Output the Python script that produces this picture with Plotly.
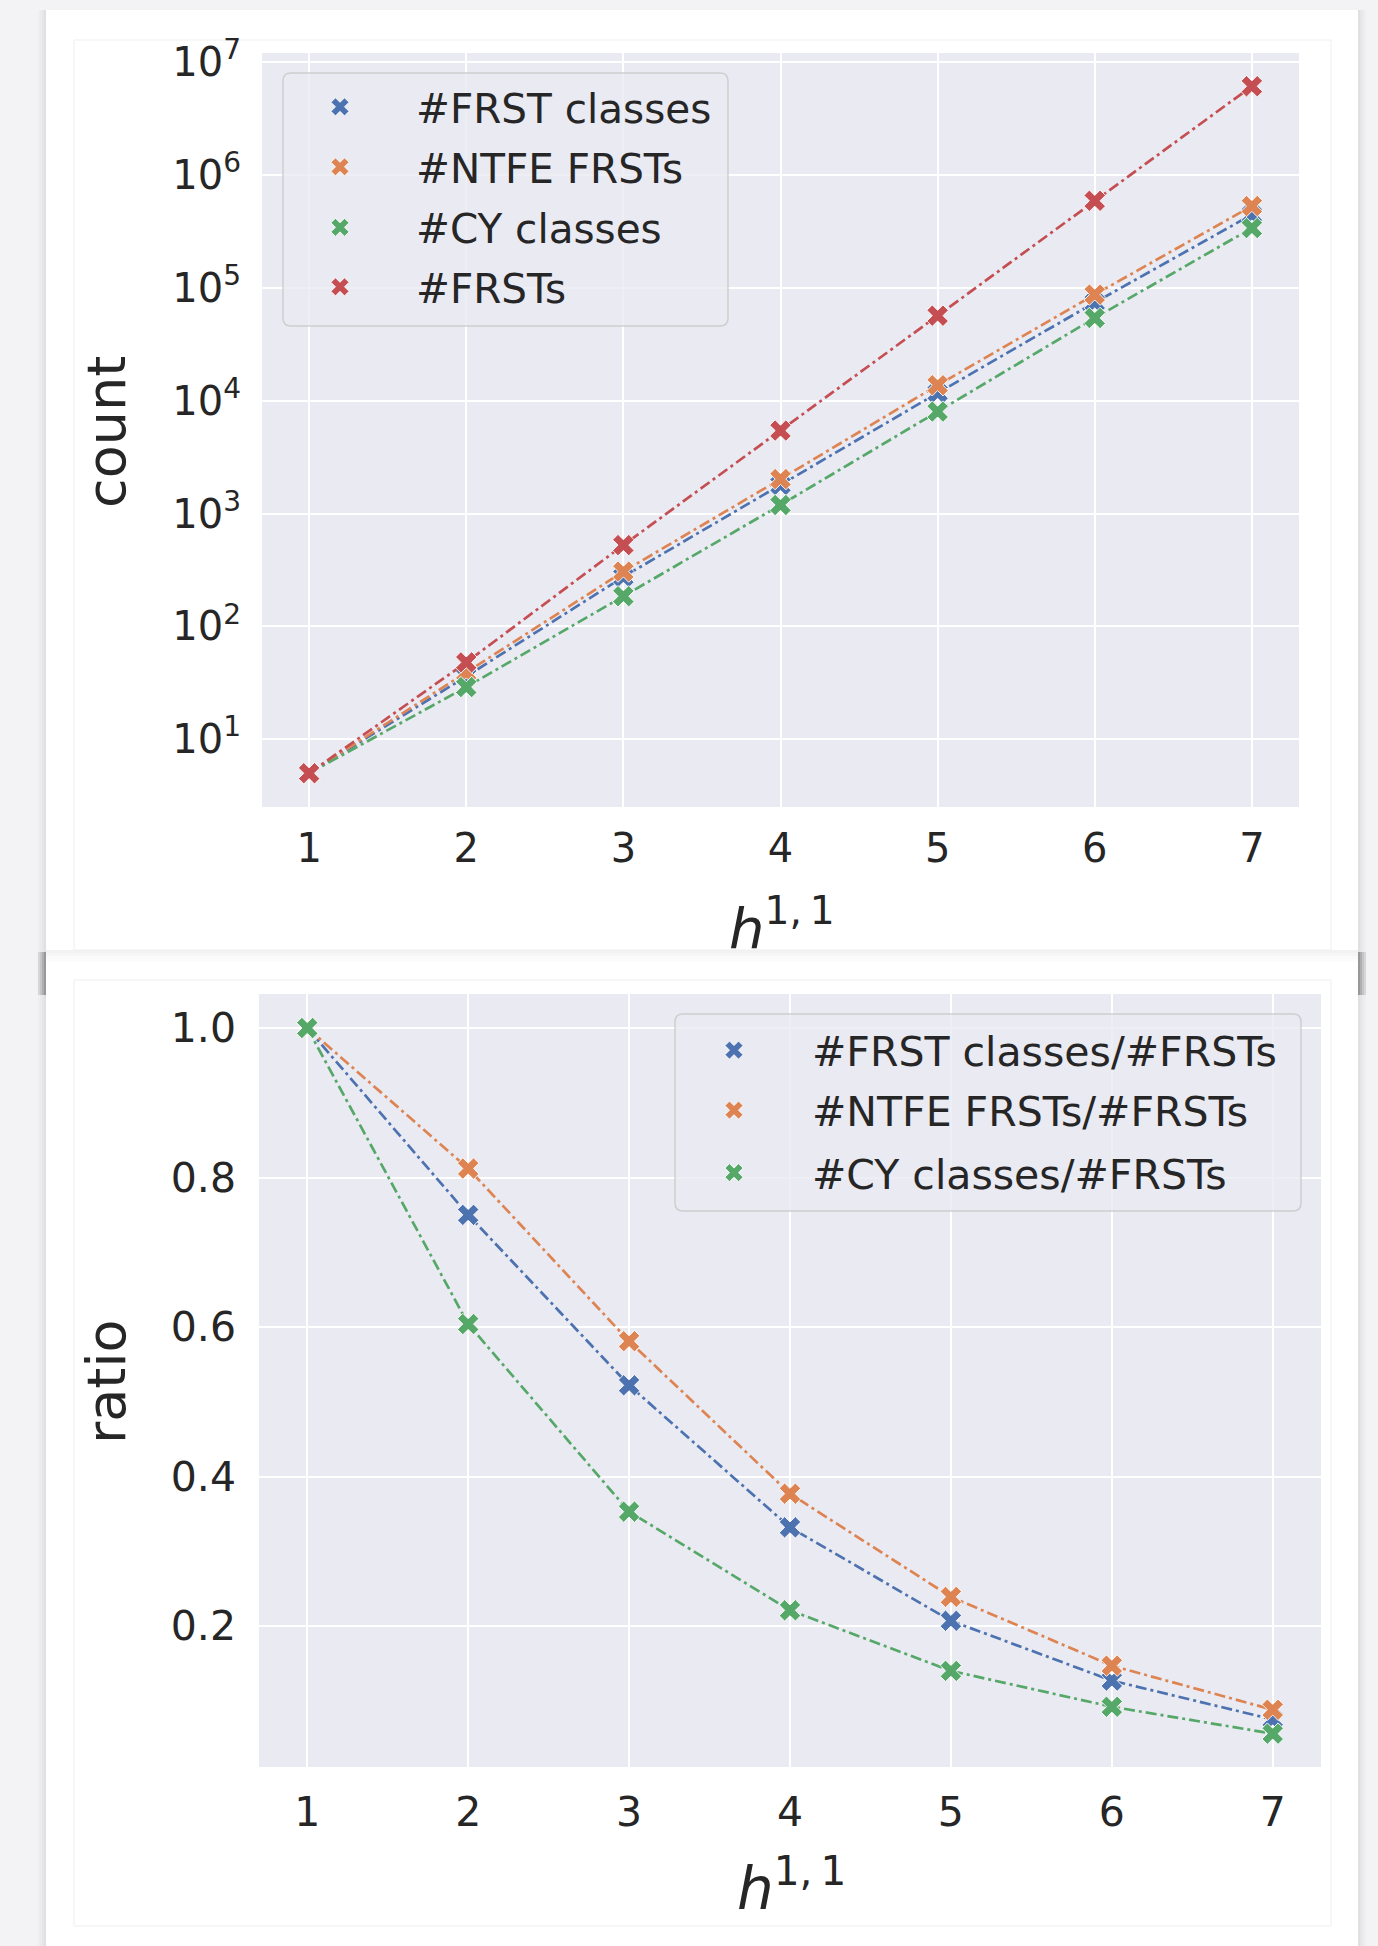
import plotly.graph_objects as go

W, H = 1378, 1946

# ---- data -------------------------------------------------------------
h11 = [1, 2, 3, 4, 5, 6, 7]

frst_classes = [5, 36, 275, 1790, 11700, 74000, 445000]
ntfe_frsts = [5, 39, 306, 2020, 13700, 87000, 530000]
cy_classes = [5, 29, 185, 1190, 8000, 54000, 338000]
frsts = [5, 48, 525, 5430, 56600, 590000, 6100000]

ratio_frst_classes = [1.0, 0.750, 0.522, 0.332, 0.207, 0.127, 0.075]
ratio_ntfe_frsts = [1.0, 0.812, 0.581, 0.377, 0.239, 0.147, 0.088]
ratio_cy_classes = [1.0, 0.604, 0.353, 0.221, 0.140, 0.092, 0.056]

count_labels = ["#FRST classes", "#NTFE FRSTs", "#CY classes", "#FRSTs"]
ratio_labels = ["#FRST classes/#FRSTs", "#NTFE FRSTs/#FRSTs", "#CY classes/#FRSTs"]

log_exponents = [1, 2, 3, 4, 5, 6, 7]
ratio_ticks = [0.2, 0.4, 0.6, 0.8, 1.0]

# ---- style ------------------------------------------------------------
COLORS = ["#4c72b0", "#dd8452", "#55a868", "#c44e52"]
TEXT = "#262626"
FONT = "DejaVu Sans"
PLOT_BG = "#eaeaf2"
DASH = "11px,4px,3px,4px"
LINE_W = 2.7
MARKER = 19


def px(x):
    return x / W


def py(y):
    return 1 - y / H


def rect(x0, y0, x1, y1, fill, layer="below", line=None):
    return dict(type="rect", xref="paper", yref="paper",
                x0=px(x0), x1=px(x1), y0=py(y1), y1=py(y0),
                fillcolor=fill, layer=layer,
                line=line or dict(width=0))


def rounded_box(x0, y0, x1, y1, r, fill, edge):
    pts = [("M", x0 + r, y0), ("L", x1 - r, y0), ("Q", x1, y0, x1, y0 + r),
           ("L", x1, y1 - r), ("Q", x1, y1, x1 - r, y1), ("L", x0 + r, y1),
           ("Q", x0, y1, x0, y1 - r), ("L", x0, y0 + r), ("Q", x0, y0, x0 + r, y0)]
    parts = []
    for p in pts:
        cmd, coords = p[0], p[1:]
        xy = " ".join(f"{px(coords[i]):.5f},{py(coords[i + 1]):.5f}"
                      for i in range(0, len(coords), 2))
        parts.append(f"{cmd}{xy}")
    path = " ".join(parts) + " Z"
    return dict(type="path", xref="paper", yref="paper", path=path,
                fillcolor=fill, line=dict(color=edge, width=1.5), layer="above")


# panel geometry (pixels)
TOP = dict(x0=262, x1=1299, y0=53, y1=807)
BOT = dict(x0=259, x1=1321, y0=994, y1=1767)

fig = go.Figure()

count_series = [frst_classes, ntfe_frsts, cy_classes, frsts]
ratio_series = [ratio_frst_classes, ratio_ntfe_frsts, ratio_cy_classes]

legend_ids_top = ["legend", "legend2", "legend3", "legend4"]
legend_ids_bot = ["legend5", "legend6", "legend7"]

marker_style = lambda c: dict(symbol="x", size=MARKER, color=c,
                              line=dict(color="white", width=0.9))

for i, (vals, name) in enumerate(zip(count_series, count_labels)):
    fig.add_trace(go.Scatter(x=h11, y=vals, mode="lines", showlegend=False,
                             line=dict(color=COLORS[i], width=LINE_W, dash=DASH),
                             xaxis="x", yaxis="y", hoverinfo="skip"))
    fig.add_trace(go.Scatter(x=h11, y=vals, mode="markers", name=name,
                             legend=legend_ids_top[i],
                             marker=marker_style(COLORS[i]),
                             xaxis="x", yaxis="y"))

for i, (vals, name) in enumerate(zip(ratio_series, ratio_labels)):
    fig.add_trace(go.Scatter(x=h11, y=vals, mode="lines", showlegend=False,
                             line=dict(color=COLORS[i], width=LINE_W, dash=DASH),
                             xaxis="x2", yaxis="y2", hoverinfo="skip"))
    fig.add_trace(go.Scatter(x=h11, y=vals, mode="markers", name=name,
                             legend=legend_ids_bot[i],
                             marker=marker_style(COLORS[i]),
                             xaxis="x2", yaxis="y2"))

# ---- background card, frames and plot areas --------------------------------
shapes = []
for k, a in enumerate([0.015, 0.03, 0.05, 0.08]):
    shapes.append(rect(38 + 2 * k, 10, 40 + 2 * k, H + 5, f"rgba(0,0,0,{a})"))
    shapes.append(rect(1364 - 2 * k, 10, 1366 - 2 * k, H + 5, f"rgba(0,0,0,{a})"))
shapes.append(rect(46, 10, 1358, H + 5, "white"))
for k, a in enumerate([0.10, 0.16, 0.24, 0.32]):
    shapes.append(rect(38 + 2 * k, 952, 40 + 2 * k, 995, f"rgba(0,0,0,{a})"))
    shapes.append(rect(1364 - 2 * k, 952, 1366 - 2 * k, 995, f"rgba(0,0,0,{a})"))
for k, a in enumerate([0.05, 0.035, 0.02, 0.01]):
    shapes.append(rect(46, 950 + 3 * k, 1358, 953 + 3 * k, f"rgba(0,0,0,{a})"))
frame_line = dict(color="#efeff1", width=1)
shapes.append(rect(74, 40, 1331, 950, "white", line=frame_line))
shapes.append(rect(74, 980, 1331, 1926, "white", line=frame_line))
shapes.append(rect(TOP["x0"], TOP["y0"], TOP["x1"], TOP["y1"], PLOT_BG))
shapes.append(rect(BOT["x0"], BOT["y0"], BOT["x1"], BOT["y1"], PLOT_BG))
shapes.append(rounded_box(283, 73, 728, 326, 8, "rgba(234,234,242,0.8)",
                          "rgba(204,204,204,0.9)"))
shapes.append(rounded_box(675, 1014, 1301, 1211, 8, "rgba(234,234,242,0.8)",
                          "rgba(204,204,204,0.9)"))

# ---- legends (one row each) ------------------------------------------------
legends = {}
top_rows = [107, 167, 227.5, 287]
for lid, yc in zip(legend_ids_top, top_rows):
    legends[lid] = dict(x=px(264), y=py(yc), xanchor="left", yanchor="middle",
                        bgcolor="rgba(0,0,0,0)", borderwidth=0, itemwidth=142,
                        font=dict(family=FONT, size=40.5, color=TEXT))
bot_rows = [1050.5, 1110.5, 1173]
for lid, yc in zip(legend_ids_bot, bot_rows):
    legends[lid] = dict(x=px(656), y=py(yc), xanchor="left", yanchor="middle",
                        bgcolor="rgba(0,0,0,0)", borderwidth=0, itemwidth=146,
                        font=dict(family=FONT, size=41, color=TEXT))

axis_common = dict(showline=False, zeroline=False, ticks="", gridcolor="white",
                   gridwidth=1.7, color=TEXT)

fig.update_layout(
    width=W, height=H,
    margin=dict(l=0, r=0, t=0, b=0, autoexpand=False),
    paper_bgcolor="#f3f3f6",
    plot_bgcolor="rgba(0,0,0,0)",
    font=dict(family=FONT, color=TEXT),
    shapes=shapes,
    xaxis=dict(domain=[px(TOP["x0"]), px(TOP["x1"])], anchor="y",
               range=[0.7, 7.3], tickvals=h11, ticklabelstandoff=14,
               tickfont=dict(size=40), **axis_common),
    yaxis=dict(domain=[py(TOP["y1"]), py(TOP["y0"])], anchor="x",
               type="log", range=[0.40, 7.08],
               tickvals=[10 ** e for e in log_exponents],
               ticktext=[f"10<sup>{e}</sup>" for e in log_exponents],
               ticklabelstandoff=20, tickfont=dict(size=40), **axis_common),
    xaxis2=dict(domain=[px(BOT["x0"]), px(BOT["x1"])], anchor="y2",
                range=[0.7, 7.3], tickvals=h11, ticklabelstandoff=17,
                tickfont=dict(size=41), **axis_common),
    yaxis2=dict(domain=[py(BOT["y1"]), py(BOT["y0"])], anchor="x2",
                range=[0.0114, 1.0455], tickvals=ratio_ticks,
                ticktext=[f"{v:.1f}" for v in ratio_ticks],
                ticklabelstandoff=22, tickfont=dict(size=41), **axis_common),
    annotations=[
        dict(text="count", textangle=-90, x=px(106), y=py(432),
             xanchor="center", yanchor="middle",
             xref="paper", yref="paper", showarrow=False,
             font=dict(size=54, color=TEXT, family=FONT)),
        dict(text="ratio", textangle=-90, x=px(106), y=py(1382),
             xanchor="center", yanchor="middle",
             xref="paper", yref="paper", showarrow=False,
             font=dict(size=54, color=TEXT, family=FONT)),
        dict(text="<i>h</i><sup>1,\u20091</sup>", x=px(782), y=py(963),
             xanchor="center", yanchor="bottom",
             xref="paper", yref="paper", showarrow=False,
             font=dict(size=56, color=TEXT, family=FONT)),
        dict(text="<i>h</i><sup>1,\u20091</sup>", x=px(791), y=py(1925),
             xanchor="center", yanchor="bottom",
             xref="paper", yref="paper", showarrow=False,
             font=dict(size=58, color=TEXT, family=FONT)),
    ],
    **legends,
)

fig.write_html("out.html")
